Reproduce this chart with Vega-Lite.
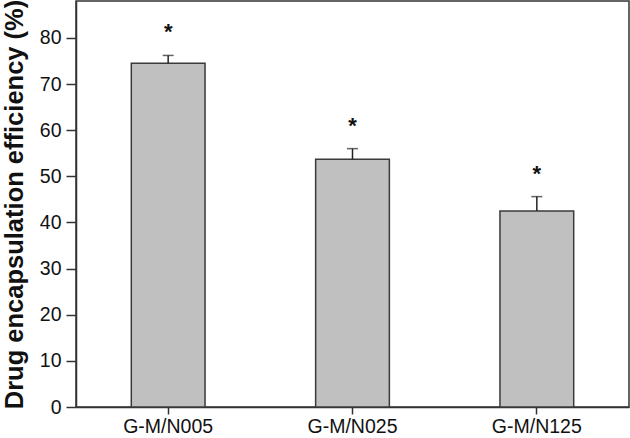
{
  "$schema": "https://vega.github.io/schema/vega-lite/v6.json",
  "width": 553,
  "height": 406,
  "autosize": {"type": "none"},
  "padding": {"left": 76, "top": 1, "right": 1, "bottom": 31},
  "background": "white",
  "config": {
    "view": {"stroke": "#333333", "strokeWidth": 1.5},
    "font": "Liberation Sans",
    "axis": {"grid": false, "domainColor": "#333333", "tickColor": "#333333", "labelColor": "#111111", "titleColor": "#111111", "domainWidth": 1.5, "tickWidth": 1.5}
  },
  "data": {
    "values": [
      {"group": "G-M/N005", "value": 74.5, "err": 76.2, "sig": "*"},
      {"group": "G-M/N025", "value": 53.7, "err": 56.0, "sig": "*"},
      {"group": "G-M/N125", "value": 42.5, "err": 45.6, "sig": "*"}
    ]
  },
  "encoding": {
    "x": {
      "field": "group", "type": "nominal", "sort": null,
      "scale": {"paddingInner": 0.6, "paddingOuter": 0.3},
      "axis": {"title": null, "labelAngle": 0, "labelFontSize": 19.5, "tickSize": 7, "labelPadding": 3}
    }
  },
  "layer": [
    {
      "mark": {"type": "bar", "fill": "#c0c0c0", "stroke": "#3a3a3a", "strokeWidth": 1.5},
      "encoding": {
        "y": {
          "field": "value", "type": "quantitative",
          "scale": {"domain": [0, 88], "nice": false, "zero": true},
          "axis": {"title": "Drug encapsulation efficiency (%)", "titleFontSize": 25.5, "titleFontWeight": "bold", "titlePadding": 12, "values": [0, 10, 20, 30, 40, 50, 60, 70, 80], "labelFontSize": 19.5, "tickSize": 10, "labelPadding": 5}
        }
      }
    },
    {
      "mark": {"type": "rule", "color": "#222222", "strokeWidth": 1.5},
      "encoding": {
        "y": {"field": "value", "type": "quantitative"},
        "y2": {"field": "err"}
      }
    },
    {
      "mark": {"type": "tick", "color": "#222222", "size": 11, "thickness": 1.5, "orient": "horizontal"},
      "encoding": {
        "y": {"field": "err", "type": "quantitative"}
      }
    },
    {
      "mark": {"type": "text", "fontSize": 22, "fontWeight": "bold", "baseline": "alphabetic", "dy": -16, "color": "#111111"},
      "encoding": {
        "y": {"field": "err", "type": "quantitative"},
        "text": {"field": "sig"}
      }
    }
  ]
}
